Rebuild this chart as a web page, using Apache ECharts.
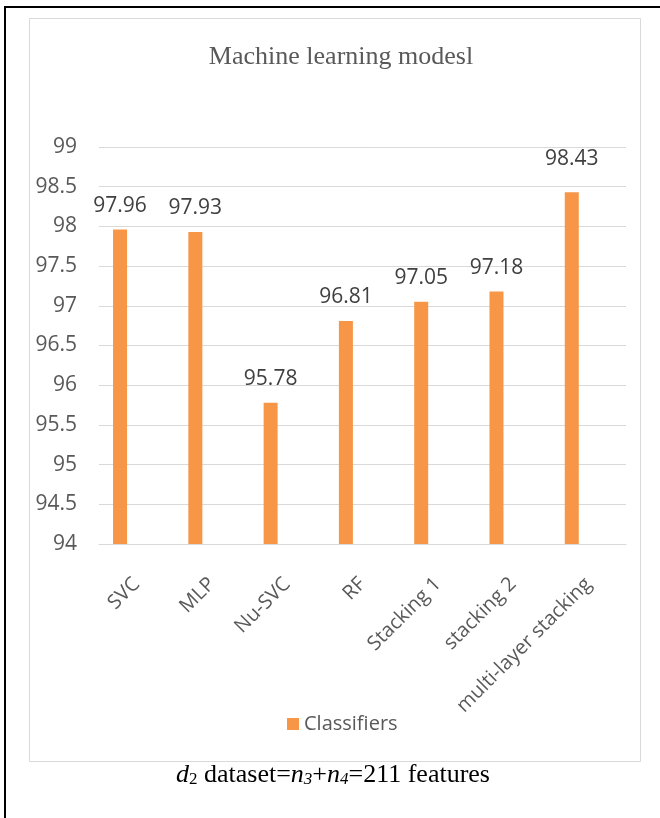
<!DOCTYPE html>
<html>
<head>
<meta charset="utf-8">
<style>
  html, body { margin: 0; padding: 0; background: #ffffff; }
  #chart { width: 660px; height: 818px; }
</style>
<script src="https://cdn.jsdelivr.net/npm/echarts@6/dist/echarts.min.js"></script>
</head>
<body>
<div id="chart"></div>
<script>
// Accuracy of each classifier on the d2 feature set
const classifiers = ['SVC', 'MLP', 'Nu-SVC', 'RF', 'Stacking 1', 'stacking 2', 'multi-layer stacking'];
const accuracy = [97.96, 97.93, 95.78, 96.81, 97.05, 97.18, 98.43];
const seriesName = 'Classifiers';
const yMin = 94, yMax = 99, yStep = 0.5;

const sansFont = '"Open Sans", "Liberation Sans", sans-serif';
const serifFont = '"Liberation Serif", "DejaVu Serif", serif';
const barColor = '#F79646';
const gridColor = '#d9d9d9';

const chart = echarts.init(document.getElementById('chart'), null, { renderer: 'canvas' });

// the last label sits a little higher above its bar
const barData = accuracy.map((v, i) => ({
  value: v,
  label: { distance: i === accuracy.length - 1 ? 23 : 13 }
}));

chart.setOption({
  backgroundColor: '#ffffff',
  animation: false,
  title: {
    text: 'Machine learning modesl',
    left: 336,
    top: 39,
    textAlign: 'center',
    textStyle: { fontFamily: serifFont, fontSize: 26, fontWeight: 'normal', color: '#595959' }
  },
  legend: {
    data: [seriesName],
    left: 282,
    top: 709,
    itemWidth: 12,
    itemHeight: 12,
    itemGap: 8,
    icon: 'rect',
    textStyle: { fontFamily: sansFont, fontSize: 20, color: '#595959' }
  },
  grid: { left: 99, right: 34, top: 147, bottom: 274, containLabel: false },
  xAxis: {
    type: 'category',
    data: classifiers,
    axisLine: { lineStyle: { color: gridColor, width: 1 } },
    axisTick: { show: false },
    axisLabel: {
      rotate: 45,
      interval: 0,
      margin: 37,
      fontFamily: sansFont,
      fontSize: 20,
      color: '#595959'
    }
  },
  yAxis: {
    type: 'value',
    min: yMin,
    max: yMax,
    interval: yStep,
    axisLine: { show: false },
    axisTick: { show: false },
    splitLine: { lineStyle: { color: gridColor, width: 1 } },
    axisLabel: { margin: 22, fontFamily: sansFont, fontSize: 21, color: '#595959' }
  },
  series: [
    {
      name: seriesName,
      type: 'bar',
      data: barData,
      barWidth: 14,
      barGap: '137%',
      itemStyle: { color: barColor },
      label: {
        show: true,
        position: 'top',
        fontFamily: sansFont,
        fontSize: 21,
        color: '#404040'
      }
    },
    {
      // empty companion series: keeps the category slot that offsets the bars
      name: 'spacer',
      type: 'bar',
      data: [],
      barWidth: 14
    }
  ],
  graphic: [
    // outer figure frame (left and top edges)
    { type: 'line', shape: { x1: 5, y1: 7, x2: 5, y2: 818 }, style: { stroke: '#000', lineWidth: 2 }, silent: true },
    { type: 'line', shape: { x1: 4, y1: 7, x2: 660, y2: 7 }, style: { stroke: '#000', lineWidth: 2 }, silent: true },
    // chart area border
    { type: 'rect', shape: { x: 29.5, y: 18.5, width: 611, height: 743 }, style: { fill: 'none', stroke: gridColor, lineWidth: 1 }, silent: true, z: -1 },
    // figure caption
    {
      type: 'text',
      left: 176,
      top: 762,
      silent: true,
      style: {
        text: '{i|d}{sub|2}{r| dataset=}{i|n}{isub|3}{r|+}{i|n}{isub|4}{r|=211 features}',
        x: 0, y: 0,
        rich: {
          r: { fontFamily: serifFont, fontSize: 26, color: '#000' },
          i: { fontFamily: serifFont, fontSize: 26, fontStyle: 'italic', color: '#000' },
          sub: { fontFamily: serifFont, fontSize: 17, color: '#000', verticalAlign: 'bottom', padding: [9, 0, 0, 0] },
          isub: { fontFamily: serifFont, fontSize: 17, fontStyle: 'italic', color: '#000', verticalAlign: 'bottom', padding: [9, 0, 0, 0] }
        }
      }
    }
  ]
});
</script>
</body>
</html>
